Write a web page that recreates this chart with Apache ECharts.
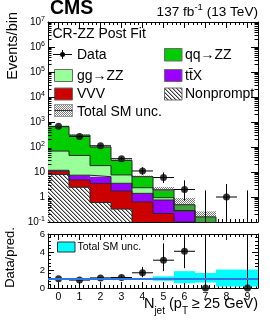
<!DOCTYPE html>
<html><head><meta charset="utf-8">
<script src="https://cdn.jsdelivr.net/npm/echarts@6/dist/echarts.min.js"></script>
<style>html,body{margin:0;padding:0;background:#fff}#c{width:270px;height:327px}</style>
</head><body><div id="c"></div>
<script>
// ---------------- data ----------------
const bins = [0, 1, 2, 3, 4, 5, 6, 7, 8, 9];
const nonprompt = [8.0, 2.45, 0.6, 0.33, 0.04, 0.02, 0.01, 0.005, 0, 0];
const vvv       = [2.7, 2.4, 2.9, 1.4, 0.6, 0.2, 0.09, 0.05, 0.02, 0.01];
const ttx       = [1.0, 2.6, 3.0, 1.8, 0.76, 0.54, 0.17, 0.03, 0.01, 0.005];
const ggzz      = [57, 38.5, 11.5, 4.1, 0.95, 0.18, 0.02, 0.01, 0.005, 0.002];
const qqzz      = [581, 254, 82, 21.4, 4.15, 1.0, 0.2, 0.065, 0.01, 0.005];
const dataObs   = [670, 265, 112, 34, 11, 6, 2, 0, 1, 0];
const dataLo    = [644, 249, 101.5, 28.2, 7.7, 3.62, 0.71, 0, 0.17, 0];
const dataHi    = [696, 281, 122.6, 39.9, 15.4, 9.58, 4.64, 1.84, 3.3, 1.84];
const uncLo     = [0.95, 0.95, 0.95, 0.92, 0.9, 0.8, 0.54, 0.61, 0.16, 0.16];
const uncHi     = [1.05, 1.05, 1.05, 1.08, 1.1, 1.3, 1.87, 1.67, 2.05, 2.05];
const ratio     = [1.03, 0.88, 1.12, 1.17, 1.69, 3.09, 4.08, 0, null, 0];
const ratioLo   = [0.99, 0.85, 1.02, 0.98, 1.2, 1.87, 2.2, 0, null, 0];
const ratioHi   = [1.07, 0.92, 1.22, 1.38, 2.35, 4.95, 9.5, 11.5, null, 11.5];
const xTickLabels = ['0','1','2','3','4','5','6','7','8','9'];
const xMinorTicks = [-0.4,-0.2,0.2,0.4,0.6,0.8,1.2,1.4,1.6,1.8,2.2,2.4,2.6,2.8,3.2,3.4,3.6,3.8,4.2,4.4,4.6,4.8,5.2,5.4,5.6,5.8,6.2,6.4,6.6,6.8,7.2,7.4,7.6,7.8,8.2,8.4,8.6,8.8,9.2,9.4];
const logDecades = [-1, 0, 1, 2, 3, 4, 5, 6];
const logMinorMult = [2, 3, 4, 5, 6, 7, 8, 9];

// ---------------- helpers ----------------
const FONT = '"Liberation Sans", Arial, Helvetica, sans-serif';
const majorX = xTickLabels.map(Number);

function makeHatch() {
  const c = document.createElement('canvas'); c.width = 4; c.height = 4;
  const g = c.getContext('2d');
  g.fillStyle = '#fff'; g.fillRect(0, 0, 4, 4);
  g.fillStyle = '#3a3a3a';
  for (let i = 0; i < 4; i++) g.fillRect(i, i, 1, 1);
  g.fillStyle = '#b0b0b0';
  for (let i = 0; i < 4; i++) g.fillRect((i + 1) % 4, i, 1, 1);
  return c;
}
function makeCross() {
  const c = document.createElement('canvas'); c.width = 2; c.height = 2;
  const g = c.getContext('2d');
  g.fillStyle = '#7a7a7a';
  g.fillRect(0, 0, 1, 1); g.fillRect(1, 1, 1, 1);
  return c;
}
const hatchFill = { image: makeHatch(), repeat: 'repeat' };
const crossFill = { image: makeCross(), repeat: 'repeat' };

const comps = [nonprompt, vvv, ttx, ggzz, qqzz];
const compFills = [hatchFill, '#cc0000', '#9900ff', '#99ff99', '#00cc00'];
const cum = [];
let run = bins.map(() => 0);
comps.forEach(c => {
  const lo = run.slice();
  run = run.map((v, i) => v + c[i]);
  cum.push({ lo: lo, hi: run.slice() });
});
const total = run;

function rectSeries(lo, hi, fill, xi, yi, floor) {
  return {
    type: 'custom', xAxisIndex: xi, yAxisIndex: yi, clip: true, silent: true,
    encode: { x: 0, y: [1, 2] },
    data: bins.map((b, i) => [b, lo[i], hi[i]]),
    renderItem: function (params, api) {
      const b = api.value(0), l = api.value(1), h = api.value(2);
      if (!(h > floor) || !(h > l)) return null;
      const p0 = api.coord([b - 0.5, Math.max(l, floor)]);
      const p1 = api.coord([b + 0.5, h]);
      return { type: 'rect', shape: { x: p0[0], y: p1[1], width: p1[0] - p0[0], height: p0[1] - p1[1] },
               style: { fill: fill } };
    }
  };
}
function stepLine(tops) {
  const pts = bins.map((b, i) => [b - 0.5, Math.max(tops[i], 1e-4)]);
  pts.push([bins[bins.length - 1] + 0.5, Math.max(tops[tops.length - 1], 1e-4)]);
  return { type: 'line', step: 'end', data: pts, symbol: 'none', silent: true, clip: true,
           xAxisIndex: 0, yAxisIndex: 0, lineStyle: { color: '#262626', width: 1 } };
}
function errSeries(xi, yi, vals, los, his, floor, drawZeroH) {
  return {
    type: 'custom', xAxisIndex: xi, yAxisIndex: yi, clip: true, silent: true,
    encode: { x: 0, y: [1, 2, 3] },
    data: bins.map((b, i) => [b, vals[i], los[i], his[i]]).filter(d => d[1] !== null),
    renderItem: function (params, api) {
      const b = api.value(0), y = api.value(1), lo = api.value(2), hi = api.value(3);
      const ch = [];
      const t = api.coord([b, hi]), bt = api.coord([b, Math.max(lo, floor)]);
      ch.push({ type: 'line', shape: { x1: t[0], y1: t[1], x2: bt[0], y2: bt[1] }, style: { stroke: '#000', lineWidth: 1 } });
      if (y > floor || (drawZeroH && y >= floor)) {
        const l = api.coord([b - 0.5, y]), r = api.coord([b + 0.5, y]);
        ch.push({ type: 'line', shape: { x1: l[0], y1: l[1], x2: r[0], y2: r[1] }, style: { stroke: '#000', lineWidth: 1 } });
      }
      return { type: 'group', children: ch };
    }
  };
}

// ---------------- axes ----------------
function xAx(grid, pos, ticks, len, line, labels) {
  return {
    gridIndex: grid, type: 'value', min: -0.5, max: 9.5, position: pos,
    splitLine: { show: false },
    axisLine: { show: line, onZero: false, lineStyle: { color: '#000', width: 1 } },
    axisTick: { show: true, inside: true, length: len, customValues: ticks, lineStyle: { color: '#000', width: 1 } },
    axisLabel: labels ? { show: true, customValues: majorX, formatter: v => xTickLabels[Math.round(v)],
                 fontSize: 10.5, fontFamily: FONT, color: '#000', margin: 4 } : { show: false }
  };
}
const xAxes = [
  xAx(0, 'bottom', majorX, 6, true, false),
  xAx(0, 'top', majorX, 6, true, false),
  xAx(0, 'bottom', xMinorTicks, 3, false, false),
  xAx(0, 'top', xMinorTicks, 3, false, false),
  xAx(1, 'bottom', majorX, 6, true, true),
  xAx(1, 'top', majorX, 6, true, false),
  xAx(1, 'bottom', xMinorTicks, 3, false, false),
  xAx(1, 'top', xMinorTicks, 3, false, false)
];
function logAx(pos, labels) {
  return {
    gridIndex: 0, type: 'log', logBase: 10, min: 0.1, max: 1e7, splitNumber: 8, position: pos,
    splitLine: { show: false },
    axisLine: { show: true, onZero: false, lineStyle: { color: '#000', width: 1 } },
    axisTick: { show: true, inside: true, length: 7, lineStyle: { color: '#000', width: 1 } },
    axisLabel: labels ? {
      show: true, margin: 3, color: '#000',
      formatter: function (v) {
        const e = Math.round(Math.log10(v));
        if (e === 0) return '{b|1}';
        if (e === 1) return '{b|10}';
        return '{b|10}{s|' + e + '}';
      },
      rich: { b: { fontSize: 10, fontFamily: FONT, color: '#000', lineHeight: 12 },
              s: { fontSize: 7, fontFamily: FONT, color: '#000', verticalAlign: 'top' } }
    } : { show: false }
  };
}
function ratAx(pos, labels) {
  return {
    gridIndex: 1, type: 'value', min: 0, max: 6, interval: 2, position: pos,
    splitLine: { show: false },
    axisLine: { show: true, onZero: false, lineStyle: { color: '#000', width: 1 } },
    axisTick: { show: true, inside: true, length: 6, lineStyle: { color: '#000', width: 1 } },
    minorTick: { show: true, splitNumber: 5, length: 3, lineStyle: { color: '#000', width: 1 } },
    axisLabel: labels ? { show: true, fontSize: 9.5, fontFamily: FONT, color: '#000', margin: 3 } : { show: false }
  };
}
const yAxes = [logAx('left', true), logAx('right', false), ratAx('left', true), ratAx('right', false)];

// ---------------- series ----------------
const series = [];
comps.forEach((c, k) => series.push(rectSeries(cum[k].lo, cum[k].hi, compFills[k], 0, 0, 0.1)));
comps.forEach((c, k) => series.push(stepLine(cum[k].hi)));
series.push(rectSeries(total.map((t, i) => t * uncLo[i]), total.map((t, i) => t * uncHi[i]), crossFill, 0, 0, 0.1));
series.push(errSeries(0, 0, dataObs, dataLo, dataHi, 0.1, false));
series.push({ type: 'scatter', xAxisIndex: 0, yAxisIndex: 0, silent: true, symbol: 'circle', symbolSize: 7,
  itemStyle: { color: '#000' }, data: bins.map((b, i) => [b, dataObs[i]]).filter(d => d[1] > 0) });
// log minor ticks on left and right edge
const minorLog = [];
logDecades.forEach(e => logMinorMult.forEach(m => minorLog.push([-0.5, m * Math.pow(10, e)])));
series.push({ type: 'custom', xAxisIndex: 0, yAxisIndex: 0, clip: false, silent: true, encode: { x: 0, y: 1 },
  data: minorLog,
  renderItem: function (params, api) {
    const p = api.coord([-0.5, api.value(1)]), q = api.coord([9.5, api.value(1)]);
    const y = Math.round(p[1]) + 0.5;
    return { type: 'group', children: [
      { type: 'line', shape: { x1: p[0], y1: y, x2: p[0] + 3.5, y2: y }, style: { stroke: '#000', lineWidth: 1 } },
      { type: 'line', shape: { x1: q[0] - 3.5, y1: y, x2: q[0], y2: y }, style: { stroke: '#000', lineWidth: 1 } }
    ] };
  } });
// ratio pane
series.push(rectSeries(uncLo, uncHi, '#00ffff', 4, 2, 0));
series.push({ type: 'line', xAxisIndex: 4, yAxisIndex: 2, silent: true, symbol: 'none',
  data: [[-0.5, 1], [9.5, 1]], lineStyle: { color: '#2a78e4', width: 2 } });
series.push(errSeries(4, 2, ratio, ratioLo, ratioHi, 0, false));
series.push({ type: 'scatter', xAxisIndex: 4, yAxisIndex: 2, silent: true, symbol: 'circle', symbolSize: 7, clip: false,
  itemStyle: { color: '#000' }, data: bins.map((b, i) => [b, ratio[i]]).filter(d => d[1] !== null) });

// ---------------- texts / legend ----------------
function txt(x, y, text, size, opts) {
  return Object.assign({ type: 'text', x: x, y: y, silent: true,
    style: Object.assign({ text: text, fontSize: size, fontFamily: FONT, fill: '#000',
      textAlign: 'left', textVerticalAlign: 'middle' }, (opts && opts.style) || {}) },
    opts && opts.extra || {});
}
function box(x, y, w, h, fill, stroke) {
  return { type: 'rect', silent: true, shape: { x: x, y: y, width: w, height: h },
           style: { fill: fill, stroke: stroke || '#555', lineWidth: 1 } };
}
const L = 14;
const graphic = [
  txt(50, 8.5, 'CMS', 19.5, { style: { fontWeight: 'bold' } }),
  { type: 'text', silent: true, x: 258, y: 12,
    style: { text: '{b|137 fb}{s|-1}{b| (13 TeV)}', textAlign: 'right', textVerticalAlign: 'middle',
      rich: { b: { fontSize: 13.6, fontFamily: FONT, fill: '#000', lineHeight: 20 },
              s: { fontSize: 9.5, fontFamily: FONT, fill: '#000', verticalAlign: 'top' } } } },
  txt(13, 12, 'Events/bin', 14.5, { style: { textAlign: 'right' }, extra: { rotation: Math.PI / 2 } }),
  txt(10, 257.5, 'Data/pred.', 13, { style: { textAlign: 'center' }, extra: { rotation: Math.PI / 2 } }),
  { type: 'text', silent: true, x: 258, y: 304,
    style: { text: '{b|N}{s|jet}{b| (p}{s|T}{b| \u2265 25 GeV)}', textAlign: 'right', textVerticalAlign: 'middle',
      rich: { b: { fontSize: 14.5, fontFamily: FONT, fill: '#000', lineHeight: 24 },
              s: { fontSize: 10, fontFamily: FONT, fill: '#000', verticalAlign: 'bottom' } } } },
  txt(52.5, 34.5, 'CR-ZZ Post Fit', L),
  // Data marker
  { type: 'line', silent: true, shape: { x1: 53, y1: 54.5, x2: 72, y2: 54.5 }, style: { stroke: '#000', lineWidth: 1 } },
  { type: 'line', silent: true, shape: { x1: 62.5, y1: 50, x2: 62.5, y2: 59 }, style: { stroke: '#000', lineWidth: 1 } },
  { type: 'circle', silent: true, shape: { cx: 62.5, cy: 54.5, r: 2.5 }, style: { fill: '#000' } },
  txt(77, 55, 'Data', L),
  box(54.5, 69.5, 18, 12, '#99ff99', '#6a6a6a'), txt(77, 76, 'gg\u2192ZZ', L),
  box(54.5, 88, 18, 12, '#cc0000', '#6a6a6a'), txt(77, 94.5, 'VVV', L),
  box(54.5, 104.5, 18, 12, '#fff', '#9a9a9a'),
  box(54.5, 104.5, 18, 12, crossFill, '#9a9a9a'),
  { type: 'line', silent: true, shape: { x1: 54.5, y1: 110.5, x2: 72.5, y2: 110.5 }, style: { stroke: '#333', lineWidth: 1 } },
  txt(77, 112, 'Total SM unc.', L),
  box(164.5, 48.5, 17.5, 12.5, '#00cc00', '#6a6a6a'), txt(185, 55, 'qq\u2192ZZ', L),
  box(164.5, 69.5, 17.5, 12, '#9900ff', '#6a6a6a'), txt(185, 76, 'tt\u0304X', L),
  box(164.5, 88, 17.5, 12, hatchFill, '#6a6a6a'), txt(185, 94.5, 'Nonprompt', L),
  // ratio legend
  box(57.5, 242, 17.5, 10, '#00ffff', '#333'), txt(77.5, 247, 'Total SM unc.', 10.5)
];

const option = {
  animation: false,
  backgroundColor: '#fff',
  grid: [
    { left: 48, top: 22, width: 210, height: 200, containLabel: false },
    { left: 48, top: 234, width: 210, height: 54, containLabel: false }
  ],
  xAxis: xAxes,
  yAxis: yAxes,
  series: series,
  graphic: graphic
};
const chart = echarts.init(document.getElementById('c'), null, { renderer: 'canvas', width: 270, height: 327 });
chart.setOption(option);
</script>
</body></html>
